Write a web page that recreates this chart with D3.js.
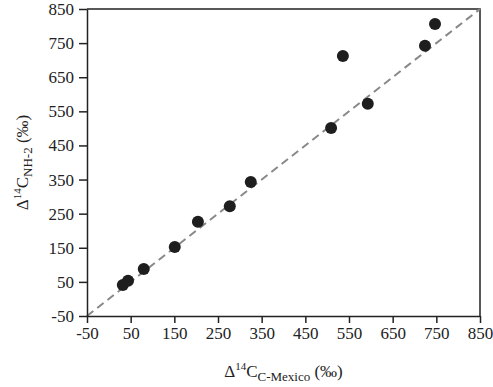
<!DOCTYPE html>
<html>
<head>
<meta charset="utf-8">
<script src="https://cdn.jsdelivr.net/npm/d3@7"></script>
<style>
  body { margin: 0; background: #fff; }
  text { font-family: "Liberation Serif", "DejaVu Serif", serif; fill: #222; }
</style>
</head>
<body>
<div id="chart"></div>
<script>
// data
const mexico = [32, 44, 80, 151, 204, 277, 325, 509, 536, 593, 724, 747];
const nh2    = [41, 53, 88, 152, 226, 272, 343, 501, 712, 572, 742, 806];
const ticks  = [-50, 50, 150, 250, 350, 450, 550, 650, 750, 850];

const width = 493, height = 387;
const mLeft = 87, mRight = 480, mTop = 9, mBottom = 316;

const svg = d3.select("#chart").append("svg")
  .attr("width", width)
  .attr("height", height);

const x = d3.scaleLinear().domain([-50, 850]).range([mLeft, mRight]);
const y = d3.scaleLinear().domain([-50, 850]).range([mBottom, mTop]);

// frame (top + right)
svg.append("path")
  .attr("d", `M${mLeft},${mTop}H${mRight}V${mBottom}`)
  .attr("fill", "none")
  .attr("stroke", "#222")
  .attr("stroke-width", 1.5);

// 1:1 line
svg.append("line")
  .attr("x1", x(-50)).attr("y1", y(-50))
  .attr("x2", x(850)).attr("y2", y(850))
  .attr("stroke", "#888")
  .attr("stroke-width", 2)
  .attr("stroke-dasharray", "8,5");

// axes (plain hyphen for negatives, like the original)
const xAxis = svg.append("g")
  .attr("transform", `translate(0,${mBottom})`)
  .call(d3.axisBottom(x).tickValues(ticks).tickFormat(String).tickSize(7).tickPadding(4).tickSizeOuter(0));
const yAxis = svg.append("g")
  .attr("transform", `translate(${mLeft},0)`)
  .call(d3.axisLeft(y).tickValues(ticks).tickFormat(String).tickSize(8).tickPadding(5).tickSizeOuter(0));

[xAxis, yAxis].forEach(function(g) {
  g.select(".domain").attr("stroke", "#222").attr("stroke-width", 1.5);
  g.selectAll(".tick line").attr("stroke", "#222").attr("stroke-width", 1.5);
  g.selectAll(".tick text").style("font-size", "17px").style("font-family", "Liberation Serif").attr("fill", "#222");
});

// points
svg.selectAll("circle.pt")
  .data(mexico.map(function(d, i) { return {x: d, y: nh2[i]}; }))
  .enter()
  .append("circle")
  .attr("class", "pt")
  .attr("cx", function(d) { return x(d.x); })
  .attr("cy", function(d) { return y(d.y); })
  .attr("r", 6)
  .attr("fill", "#1e1e1e");

// axis titles
const xt = svg.append("text")
  .attr("x", (mLeft + mRight) / 2)
  .attr("y", 377)
  .attr("text-anchor", "middle")
  .style("font-size", "17px");
xt.append("tspan").text("Δ");
xt.append("tspan").attr("dy", -7).style("font-size", "11px").text("14");
xt.append("tspan").attr("dy", 7).text("C");
xt.append("tspan").attr("dy", 4).style("font-size", "13px").text("C-Mexico");
xt.append("tspan").attr("dy", -4).text(" (‰)");

const yt = svg.append("text")
  .attr("transform", `translate(28,${(mTop + mBottom) / 2}) rotate(-90)`)
  .attr("text-anchor", "middle")
  .style("font-size", "17px");
yt.append("tspan").text("Δ");
yt.append("tspan").attr("dy", -7).style("font-size", "11px").text("14");
yt.append("tspan").attr("dy", 7).text("C");
yt.append("tspan").attr("dy", 4).style("font-size", "13px").text("NH-2");
yt.append("tspan").attr("dy", -4).text(" (‰)");
</script>
</body>
</html>
